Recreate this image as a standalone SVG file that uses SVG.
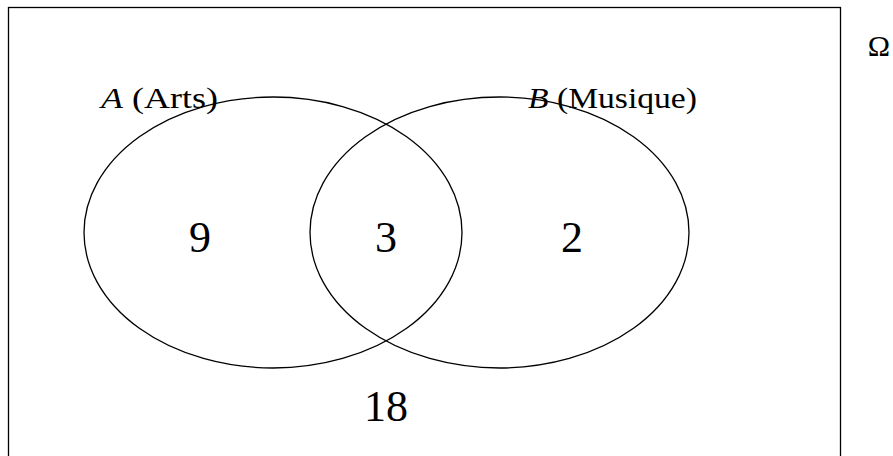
<svg xmlns="http://www.w3.org/2000/svg" width="893" height="456" viewBox="0 0 893 456">
<style>
.sh{fill:none;stroke:#000;stroke-width:1.3}
.t{font-family:"Liberation Serif","DejaVu Serif",serif;fill:#000}
.n{font-size:44px;text-anchor:middle}
.l{font-size:30px}
</style>
<rect x="0" y="0" width="893" height="456" fill="#fff"/>
<g id="omega">
<rect class="sh" x="8.5" y="7.5" width="832" height="460" stroke="#333"/>
<text class="t" x="879" y="56" font-size="30" text-anchor="middle">Ω</text>
<text class="t n" x="386" y="421">18</text>
</g>
<g id="A">
<ellipse class="sh" cx="273" cy="232.5" rx="189" ry="135.5"/>
<text class="t l" x="101" y="108" textLength="117" lengthAdjust="spacingAndGlyphs"><tspan font-style="italic">A</tspan> (Arts)</text>
<text class="t n" x="200" y="252">9</text>
</g>
<g id="B">
<ellipse class="sh" cx="499.5" cy="232.5" rx="189.5" ry="135.5"/>
<text class="t l" x="528" y="108" textLength="169" lengthAdjust="spacingAndGlyphs"><tspan font-style="italic">B</tspan> (Musique)</text>
<text class="t n" x="572" y="252">2</text>
</g>
<g id="AB">
<text class="t n" x="386" y="252">3</text>
</g>
</svg>
